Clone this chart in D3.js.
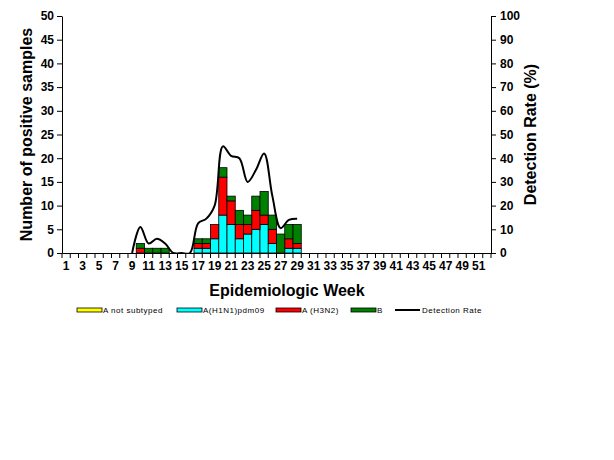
<!DOCTYPE html>
<html>
<head>
<meta charset="utf-8">
<script src="https://cdn.jsdelivr.net/npm/d3@7"></script>
<style>
  body { margin: 0; background: #fff; }
  text { font-family: "Liberation Sans", Arial, sans-serif; }
</style>
</head>
<body>
<div id="chart"></div>
<script>
// weekly positives by type, weeks 1..52
var weeks = d3.range(1, 53)
var notSubtyped = weeks.map(function () { return 0 })
var h1n1 = [0,0,0,0,0,0,0,0,0,0, 0,0,0,0,0,0,1,1,3,8, 6,3,4,5,6,2,0,1,1,0, 0,0,0,0,0,0,0,0,0,0, 0,0,0,0,0,0,0,0,0,0, 0,0]
var h3n2 = [0,0,0,0,0,0,0,0,0,1, 0,0,0,0,0,0,1,1,3,8, 5,3,2,4,2,3,0,2,1,0, 0,0,0,0,0,0,0,0,0,0, 0,0,0,0,0,0,0,0,0,0, 0,0]
var fluB = [0,0,0,0,0,0,0,0,0,1, 1,1,1,0,0,0,1,1,0,2, 1,3,2,3,5,3,4,3,4,0, 0,0,0,0,0,0,0,0,0,0, 0,0,0,0,0,0,0,0,0,0, 0,0]

// detection rate (%), only reported weeks 9..29
var rateWeeks = d3.range(9, 30)
var rate = [0, 11, 4, 6, 4, 0, 0, 0, 12.5, 14.5, 20, 45, 41, 40, 30, 35, 42, 24, 10.5, 14, 14.5]

var seriesKeys = ["notSubtyped", "h1n1", "h3n2", "fluB"]
var seriesNames = ["A not subtyped", "A(H1N1)pdm09", "A (H3N2)", "B"]
var seriesColors = ["#ffff00", "#00ffff", "#ff0000", "#008000"]

var table = weeks.map(function (w, i) {
    return { week: w, notSubtyped: notSubtyped[i], h1n1: h1n1[i], h3n2: h3n2[i], fluB: fluB[i] }
})

var dim = { left: 62, right: 491, top: 16, bottom: 253 }

var svg = d3.select("#chart").append("svg")
    .attr("width", 614)
    .attr("height", 460)

var x = d3.scaleBand()
    .domain(weeks)
    .range([dim.left, dim.right])
    .padding(0)

var y = d3.scaleLinear().domain([0, 50]).range([dim.bottom, dim.top])
var y2 = d3.scaleLinear().domain([0, 100]).range([dim.bottom, dim.top])

// stacked bars
var stack = d3.stack().keys(seriesKeys)(table)

svg.append("g")
    .selectAll("g")
    .data(stack)
    .enter()
    .append("g")
    .attr("fill", function (d, i) { return seriesColors[i] })
    .selectAll("rect")
    .data(function (d) { return d.filter(function (p) { return p[1] - p[0] > 0 }) })
    .enter()
    .append("rect")
    .attr("x", function (d) { return x(d.data.week) })
    .attr("y", function (d) { return y(d[1]) })
    .attr("width", x.bandwidth())
    .attr("height", function (d) { return y(d[0]) - y(d[1]) })
    .attr("stroke", "#000")
    .attr("stroke-width", 0.8)

// detection rate line
svg.append("clipPath").attr("id", "clip")
    .append("rect")
    .attr("x", dim.left).attr("y", 0)
    .attr("width", dim.right - dim.left).attr("height", dim.bottom)

var line = d3.line()
    .x(function (d, i) { return x(rateWeeks[i]) + x.bandwidth() / 2 })
    .y(function (d) { return y2(d) })
    .curve(d3.curveCatmullRom.alpha(0.5))

svg.append("path")
    .datum(rate)
    .attr("clip-path", "url(#clip)")
    .attr("fill", "none")
    .attr("stroke", "#000")
    .attr("stroke-width", 2)
    .attr("d", line)

// axes
var xAxis = svg.append("g")
    .attr("transform", "translate(0," + dim.bottom + ")")
    .call(d3.axisBottom(x).tickSize(0).tickFormat(function (d) { return d % 2 == 1 ? d : "" }))
xAxis.select(".domain").attr("stroke", "#000")
xAxis.selectAll("text")
    .attr("dy", "1.2em")
    .style("font-size", "12px")
    .style("font-weight", "bold")
    .attr("fill", "#000")
// tick marks on week boundaries
xAxis.selectAll(".wtick")
    .data(weeks.concat([53]))
    .enter()
    .append("line")
    .attr("x1", function (d) { return d == 53 ? dim.right : x(d) })
    .attr("x2", function (d) { return d == 53 ? dim.right : x(d) })
    .attr("y1", 0)
    .attr("y2", 5)
    .attr("stroke", "#000")

var yAxis = svg.append("g")
    .attr("transform", "translate(" + dim.left + ",0)")
    .call(d3.axisLeft(y).tickValues(d3.range(0, 51, 5)).tickSize(5).tickSizeOuter(0))
yAxis.selectAll("text")
    .style("font-size", "12px")
    .style("font-weight", "bold")
    .attr("fill", "#000")

var yAxis2 = svg.append("g")
    .attr("transform", "translate(" + dim.right + ",0)")
    .call(d3.axisRight(y2).tickValues(d3.range(0, 101, 10)).tickSize(5).tickSizeOuter(0))
yAxis2.selectAll("text")
    .attr("x", 9)
    .style("font-size", "12px")
    .style("font-weight", "bold")
    .attr("fill", "#000")

// titles
svg.append("text")
    .attr("transform", "translate(32," + ((dim.top + dim.bottom) / 2) + ") rotate(-90)")
    .attr("text-anchor", "middle")
    .style("font-size", "16px")
    .style("font-weight", "bold")
    .text("Number of positive samples")

svg.append("text")
    .attr("transform", "translate(536," + ((dim.top + dim.bottom) / 2) + ") rotate(-90)")
    .attr("text-anchor", "middle")
    .style("font-size", "16px")
    .style("font-weight", "bold")
    .text("Detection Rate (%)")

svg.append("text")
    .attr("x", 287)
    .attr("y", 296)
    .attr("text-anchor", "middle")
    .style("font-size", "16px")
    .style("font-weight", "bold")
    .text("Epidemiologic Week")

// legend
var legendX = [77, 177, 276, 351]
var legend = svg.append("g")
seriesNames.forEach(function (name, i) {
    legend.append("rect")
        .attr("x", legendX[i]).attr("y", 308)
        .attr("width", 25).attr("height", 4)
        .attr("fill", seriesColors[i])
        .attr("stroke", "#000")
        .attr("stroke-width", 0.8)
    legend.append("text")
        .attr("x", legendX[i] + 26).attr("y", 313)
        .style("font-size", "8px")
        .style("letter-spacing", "0.5px")
        .text(name)
})
legend.append("line")
    .attr("x1", 395).attr("x2", 420)
    .attr("y1", 310).attr("y2", 310)
    .attr("stroke", "#000")
    .attr("stroke-width", 2)
legend.append("text")
    .attr("x", 422).attr("y", 313)
    .style("font-size", "8px")
    .style("letter-spacing", "0.5px")
    .text("Detection Rate")
</script>
</body>
</html>
